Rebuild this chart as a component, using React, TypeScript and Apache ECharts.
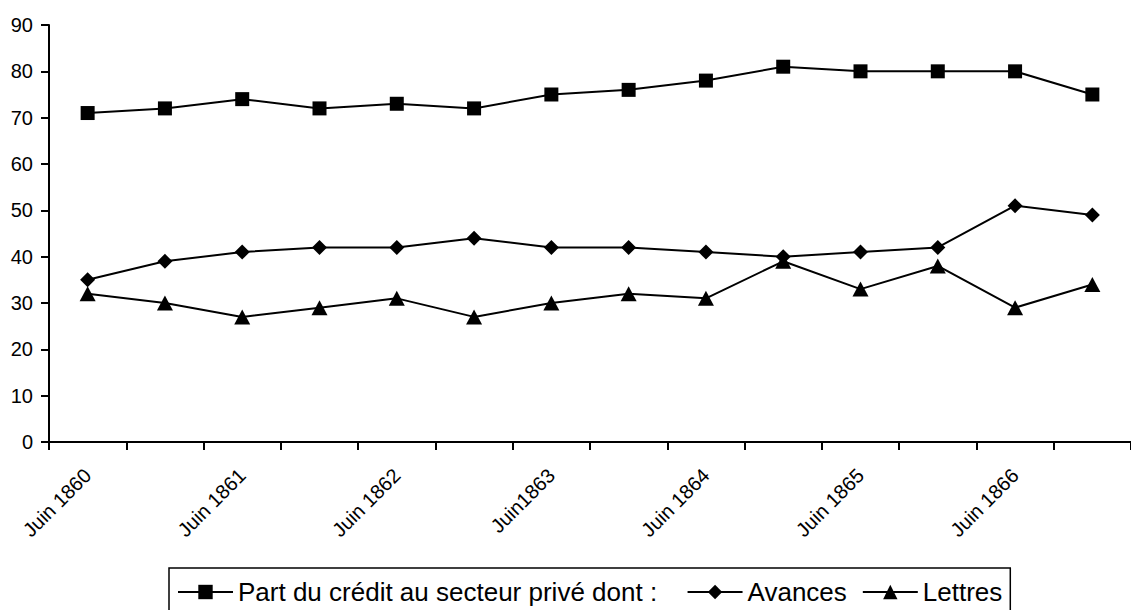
import React, { useEffect, useRef } from "react";
import * as echarts from "echarts";

const categories = [
  "Juin 1860", "", "Juin 1861", "", "Juin 1862", "", "Juin1863", "",
  "Juin 1864", "", "Juin 1865", "", "Juin 1866", "",
];
const partCredit = [71, 72, 74, 72, 73, 72, 75, 76, 78, 81, 80, 80, 80, 75];
const avances = [35, 39, 41, 42, 42, 44, 42, 42, 41, 40, 41, 42, 51, 49];
const lettres = [32, 30, 27, 29, 31, 27, 30, 32, 31, 39, 33, 38, 29, 34];
const seriesNames = ["Part du crédit au secteur privé dont :", "Avances", "Lettres"];

const FONT = "'Liberation Sans', Arial, sans-serif";

export default function App() {
  const ref = useRef<HTMLDivElement>(null);
  useEffect(() => {
    if (!ref.current) return;
    const chart = echarts.init(ref.current, undefined, { renderer: "svg" });
    const lineStyle = { color: "#000", width: 2 };
    chart.setOption({
      animation: false,
      backgroundColor: "#fff",
      textStyle: { fontFamily: FONT, color: "#000" },
      grid: { left: 49, top: 25, bottom: 168, right: -11, containLabel: false },
      legend: {
        left: 169,
        top: 568,
        padding: [11, 8, 11, 8],
        itemGap: 15,
        itemWidth: 55,
        itemHeight: 18,
        borderColor: "#000",
        borderWidth: 1.5,
        formatter: (name: string) => (name === seriesNames[0] ? name + "  " : name),
        textStyle: { fontFamily: FONT, fontSize: 26, color: "#000" },
        data: seriesNames,
      },
      xAxis: {
        type: "category",
        data: categories,
        boundaryGap: true,
        axisLine: { lineStyle: { color: "#000", width: 2 } },
        axisTick: { show: true, interval: 0, length: 8, lineStyle: { color: "#000", width: 2 } },
        axisLabel: {
          interval: 0,
          rotate: 45,
          margin: 30,
          fontSize: 20,
          color: "#000",
          fontFamily: FONT,
        },
        splitLine: { show: false },
      },
      yAxis: {
        type: "value",
        min: 0,
        max: 90,
        interval: 10,
        axisLine: { show: true, lineStyle: { color: "#000", width: 2 } },
        axisTick: { show: true, length: 8, lineStyle: { color: "#000", width: 2 } },
        axisLabel: { margin: 16, fontSize: 20, color: "#000", fontFamily: FONT },
        splitLine: { show: false },
      },
      series: [
        {
          name: seriesNames[0],
          type: "line",
          data: partCredit,
          symbol: "rect",
          symbolSize: 14,
          lineStyle,
          itemStyle: { color: "#000" },
        },
        {
          name: seriesNames[1],
          type: "line",
          data: avances,
          symbol: "diamond",
          symbolSize: 15,
          lineStyle,
          itemStyle: { color: "#000" },
        },
        {
          name: seriesNames[2],
          type: "line",
          data: lettres,
          symbol: "triangle",
          symbolSize: [16, 15],
          lineStyle,
          itemStyle: { color: "#000" },
        },
      ],
    });
    return () => chart.dispose();
  }, []);
  return <div ref={ref} style={{ width: 1131, height: 610, position: "absolute", left: 0, top: 0 }} />;
}
